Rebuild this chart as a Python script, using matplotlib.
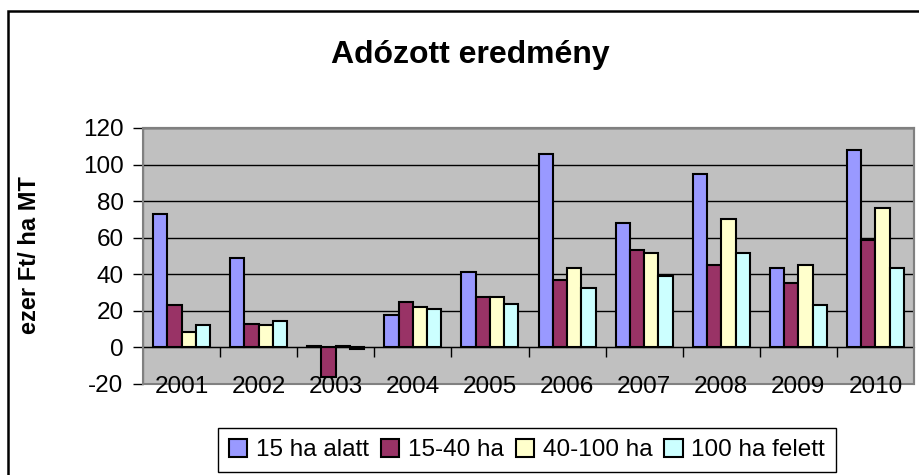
import matplotlib
matplotlib.use("Agg")
from matplotlib import pyplot as plt
from matplotlib.patches import Rectangle
import numpy as np

plt.rcParams['font.family'] = ['Liberation Sans', 'DejaVu Sans']
plt.rcParams['axes.unicode_minus'] = False

years = ['2001', '2002', '2003', '2004', '2005', '2006', '2007', '2008', '2009', '2010']
series_names = ['15 ha alatt', '15-40 ha', '40-100 ha', '100 ha felett']
ha15 = [73, 49, 1, 17.5, 41.5, 106, 68, 95, 43.5, 108]
ha15_40 = [23, 13, -16, 25, 27.5, 37, 53.5, 45, 35, 59]
ha40_100 = [8.5, 12, 1, 22, 27.5, 43.5, 51.5, 70, 45, 76.5]
ha100 = [12, 14.5, -1, 21, 24, 32.5, 39, 51.5, 23, 43.5]
colors = ['#9999FF', '#993366', '#FFFFCC', '#CCFFFF']

fig = plt.figure(figsize=(9.19, 4.75), dpi=100)
W, H = 919, 475
ax = fig.add_axes([143 / W, 1 - 384 / H, (914 - 143) / W, (384 - 128) / H])
ax.set_facecolor('#C0C0C0')

x = np.arange(len(years))
bw = 0.185
for i, (vals, name) in enumerate(zip([ha15, ha15_40, ha40_100, ha100], series_names)):
    ax.bar(x + (i - 1.5) * bw, vals, bw, color=colors[i], edgecolor='black',
           linewidth=1.5, label=name, zorder=3)

ax.set_xlim(-0.5, len(years) - 0.5)
ax.set_ylim(-20, 120)
ax.set_yticks(np.arange(-20, 121, 20))
ax.tick_params(axis='y', direction='out', length=7, width=1, labelsize=17.5, pad=7)
ax.grid(axis='y', color='black', linewidth=1, zorder=1)

# zero axis with tick marks between categories
ax.spines['bottom'].set_position(('data', 0))
ax.spines['bottom'].set_color('black')
ax.spines['bottom'].set_zorder(4)
ax.set_xticks(np.arange(0.5, len(years) - 0.5, 1))
ax.set_xticklabels([])
ax.tick_params(axis='x', direction='out', length=7, width=1)
for s in ['top', 'right']:
    ax.spines[s].set_color('#808080')
    ax.spines[s].set_linewidth(1.5)
ax.spines['left'].set_color('black')
ax.add_patch(Rectangle((0, 0), 1, 1, transform=ax.transAxes, fill=False,
                       edgecolor='#808080', linewidth=1.5, clip_on=False, zorder=5))

for i, y in enumerate(years):
    ax.text(i, -21.5, y, ha='center', va='center', fontsize=17.5, zorder=6)

fig.text(30 / W, 1 - 255 / H, 'ezer Ft/ ha MT', rotation=90, ha='center', va='center',
         fontsize=17, fontweight='bold')
fig.text(470 / W, 1 - 55 / H, 'Adózott eredmény', ha='center', va='center',
         fontsize=23, fontweight='bold')

leg = fig.legend(loc='upper center', bbox_to_anchor=(527 / W, 1 - 428 / H), ncol=4,
                 fontsize=17.5, handlelength=0.75, handleheight=0.75, handletextpad=0.35,
                 columnspacing=0.5, borderpad=0.45, borderaxespad=0, fancybox=False,
                 framealpha=1, edgecolor='black')
leg.get_frame().set_linewidth(1)
for h in leg.legend_handles:
    h.set_linewidth(1.5)

fig.patches.append(Rectangle((8 / W, -0.1), 1.2, 1.1 - 11 / H, transform=fig.transFigure,
                             fill=False, edgecolor='black', linewidth=1.8))

fig.savefig('out.png', dpi=100)
